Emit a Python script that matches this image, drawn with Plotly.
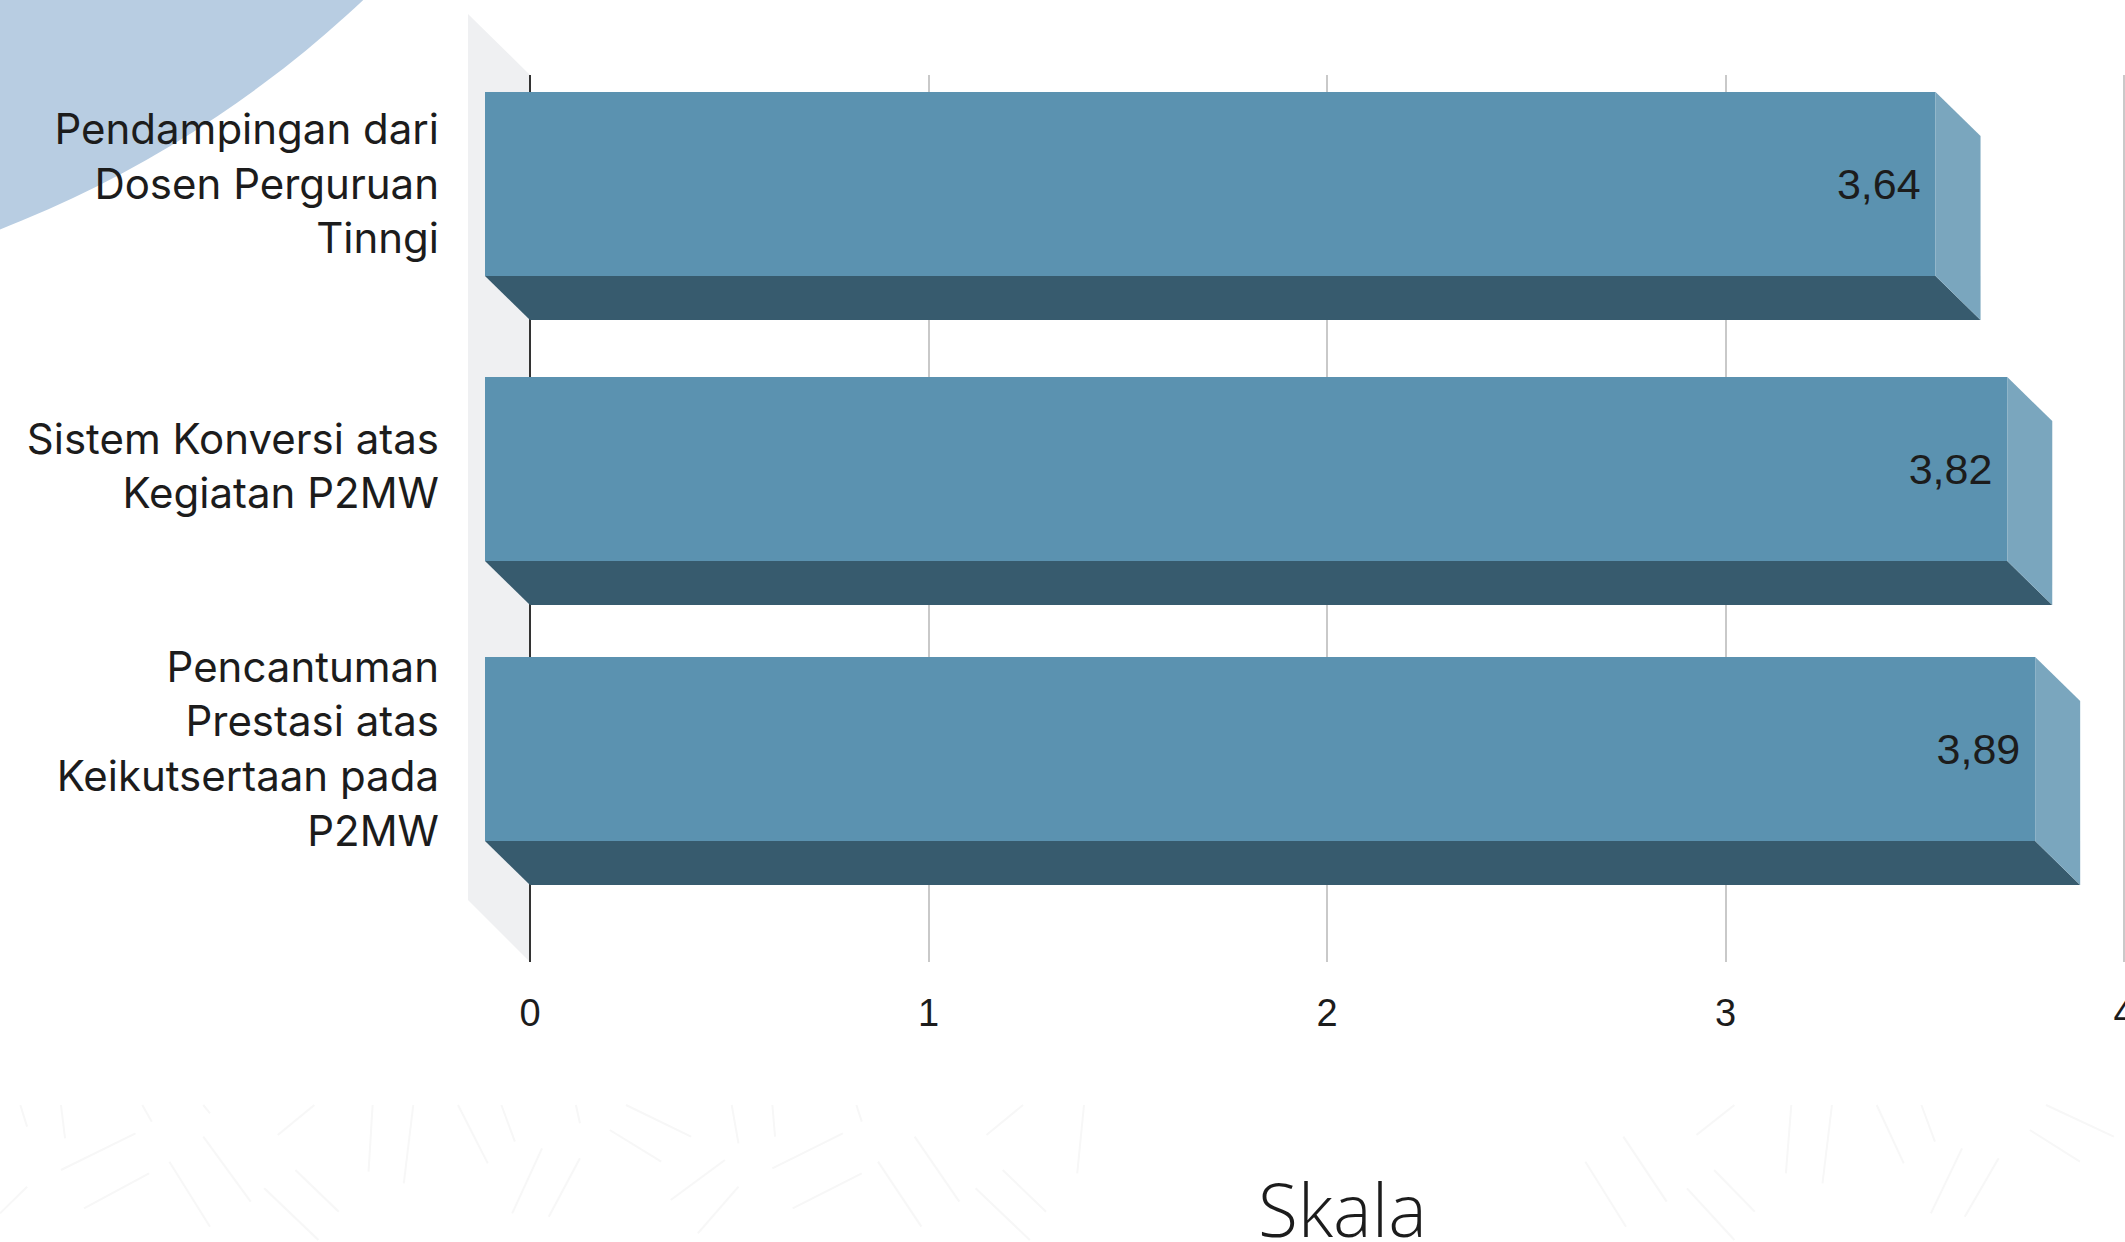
import plotly.graph_objects as go

categories = ["Pendampingan dari<br>Dosen Perguruan<br>Tinngi",
              "Sistem Konversi atas<br>Kegiatan P2MW",
              "Pencantuman<br>Prestasi atas<br>Keikutsertaan pada<br>P2MW"]
values = [3.64, 3.82, 3.89]
tick_values = [0, 1, 2, 3, 4]
axis_title = "Skala"

W, H = 2125, 1242
PAGE_EXTRA = 15  # the figure runs past the window so the "4" tick is cut at the edge, as in the reference
L, R, T, B = 468, 2127, 75, 962
PX_PER_UNIT = 398.5
X_MIN = -(530 - L) / PX_PER_UNIT
X_MAX = 4 + 3 / PX_PER_UNIT
BAND_PX = 282.5
Y_TOP = (T - 184) / BAND_PX
Y_BOT = (B - 184) / BAND_PX
HALF = 92 / BAND_PX
DX = 45 / PX_PER_UNIT
DY = 44 / BAND_PX
BAR_NUDGE = [0, 2.5 / BAND_PX, 0]

FRONT, BOTTOM, SIDE = "#5B92B0", "#375B6E", "#7AA6BE"
WALL, CIRCLE, TEXT, GRID, STROKE = "#EFF0F2", "#B8CDE2", "#1c1c1c", "#c9c9c9", "#f7f7f7"


def px(x):
    return (x - L) / (R - L)


def py(y):
    return (B - y) / (B - T)


shapes = [
    dict(type="circle", xref="paper", yref="paper", layer="below", line_width=0, fillcolor=CIRCLE,
         x0=px(-408 - 1125), x1=px(-408 + 1125), y0=py(-819 + 1125), y1=py(-819 - 1125)),
    dict(type="path", xref="paper", yref="paper", layer="below", line_width=0, fillcolor=WALL,
         path=f"M{px(468)},{py(14)} L{px(530)},{py(75)} L{px(530)},{py(962)} L{px(468)},{py(900)} Z"),
]

# faint background texture along the bottom edge (zoom-crop coordinates)
texture = [(15, 615, 20, 680), (45, 615, 48, 715), (105, 615, 112, 665), (150, 615, 155, 640), (232, 615, 205, 705),
           (275, 615, 272, 815), (305, 615, 298, 850), (338, 615, 360, 790), (370, 615, 380, 725), (425, 615, 428, 670),
           (462, 615, 510, 710), (540, 615, 545, 730), (570, 615, 572, 710), (632, 615, 636, 665), (755, 615, 728, 705),
           (800, 615, 795, 820), (100, 700, 45, 810), (150, 710, 185, 905), (125, 785, 155, 980), (110, 820, 62, 925),
           (400, 745, 378, 940), (428, 775, 405, 950), (450, 690, 488, 785), (535, 780, 495, 900), (622, 700, 570, 805),
           (675, 710, 708, 905), (648, 785, 680, 980), (636, 820, 585, 925), (740, 810, 772, 935), (545, 860, 515, 1000),
           (195, 865, 235, 1020), (218, 810, 250, 935), (20, 860, 0, 940), (720, 865, 760, 1020), (1280, 615, 1252, 705),
           (1322, 615, 1318, 820), (1352, 615, 1345, 850), (1385, 615, 1405, 790), (1418, 615, 1428, 725),
           (1510, 615, 1560, 710), (1198, 710, 1230, 905), (1170, 785, 1200, 980), (1448, 745, 1425, 940),
           (1475, 775, 1450, 950), (1498, 690, 1535, 785), (1265, 810, 1295, 935), (1245, 865, 1280, 1020)]
for x0, y0, x1, y1 in texture:
    shapes.append(dict(type="line", xref="paper", yref="paper", layer="below",
                       line=dict(color=STROKE, width=2),
                       x0=px(x0 * 1.355), y0=py(900 + y0 / 3), x1=px(x1 * 1.355), y1=py(900 + y1 / 3)))

# 3D faces of each bar, derived from the values through the chart's axes
for i, v in enumerate(values):
    top, bot = i - HALF + BAR_NUDGE[i], i + HALF + BAR_NUDGE[i]
    fx = v - DX
    shapes.append(dict(type="path", xref="x", yref="y", line_width=0, fillcolor=BOTTOM, layer="above",
                       path=f"M{-DX},{bot} L0,{bot + DY} L{v},{bot + DY} L{fx},{bot} Z"))
    shapes.append(dict(type="path", xref="x", yref="y", line_width=0, fillcolor=SIDE, layer="above",
                       path=f"M{fx},{top} L{v},{top + DY} L{v},{bot + DY} L{fx},{bot} Z"))

labels = [f"{v:.2f}".replace(".", ",") + "\u00a0" for v in values]

fig = go.Figure(go.Bar(
    y=categories, x=values, base=-DX, orientation="h", width=2 * HALF,
    offset=[-HALF + n for n in BAR_NUDGE],
    marker=dict(color=FRONT, line_width=0),
    text=labels, textposition="inside", insidetextanchor="end", textangle=0, constraintext="none",
    textfont=dict(family="Liberation Sans", size=43, color=TEXT),
    hoverinfo="skip",
))

fig.update_layout(
    width=W + PAGE_EXTRA, height=H, autosize=False,
    margin=dict(l=L, r=W + PAGE_EXTRA - R, t=T, b=H - B, pad=0),
    paper_bgcolor="white", plot_bgcolor="rgba(0,0,0,0)",
    showlegend=False, separators=",.",
    font=dict(family="Inter", size=42, color=TEXT),
    shapes=shapes,
    annotations=[dict(text=axis_title, xref="paper", yref="paper", x=px(1342), y=py(1208),
                      xanchor="center", yanchor="middle", showarrow=False,
                      font=dict(family="Open Sans Light, Open Sans", size=73, color=TEXT))],
)
fig.update_xaxes(range=[X_MIN, X_MAX], tickvals=tick_values, ticks="", showgrid=True, gridcolor=GRID, gridwidth=2,
                 zeroline=True, zerolinecolor="#333333", zerolinewidth=2, showline=False,
                 ticklabelstandoff=25, automargin=False, tickfont=dict(family="Liberation Sans", size=38))
fig.update_yaxes(type="category", categoryorder="array", categoryarray=categories,
                 range=[Y_BOT, Y_TOP], showgrid=False, zeroline=False, showline=False, ticks="",
                 ticklabelstandoff=28, automargin=False)

fig.write_html("out.html", config=dict(displayModeBar=False),
               post_script="document.body.style.margin='0';document.body.style.overflow='hidden';"
                           "document.documentElement.style.overflow='hidden';")
